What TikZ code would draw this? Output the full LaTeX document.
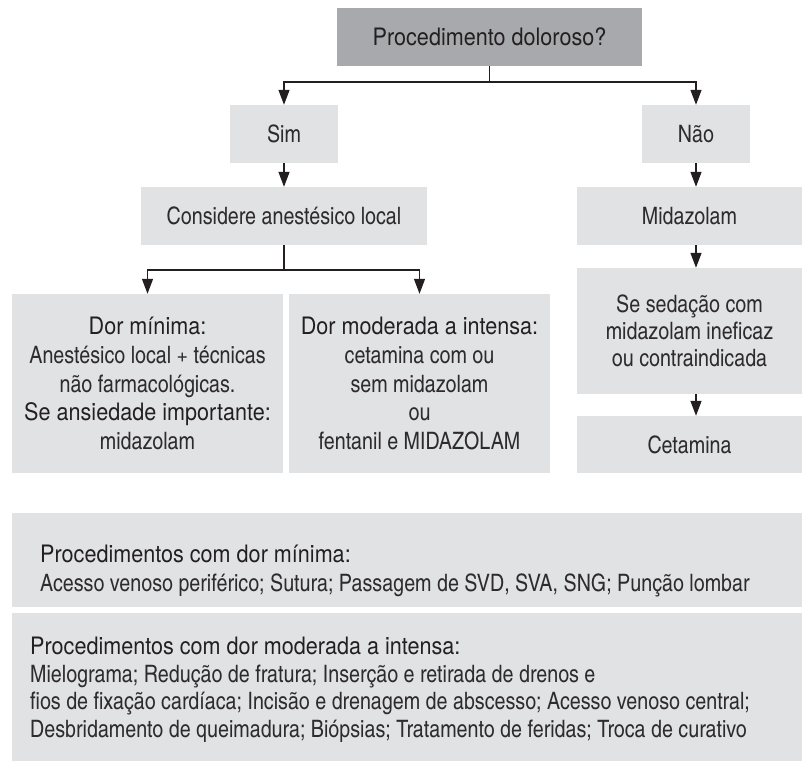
\documentclass[tikz,border=0pt]{standalone}
\usepackage{fontspec}
\setmainfont{TeX Gyre Heros}
\newfontfamily\headfont{TeX Gyre Heros}[FakeStretch=0.9]
\newfontfamily\bodyfont{texgyreheroscn-regular.otf}
\usetikzlibrary{arrows.meta}
\definecolor{boxlight}{HTML}{E1E2E4}
\definecolor{boxdark}{HTML}{A7A9AC}
\definecolor{txt}{HTML}{231F20}
\definecolor{bodytxt}{HTML}{2E2B2C}
\begin{document}
\begin{tikzpicture}[x=1pt,y=-1pt,
  box/.style={fill=boxlight, inner sep=0pt, text=bodytxt, align=center,
    font=\bodyfont\fontsize{24}{28.6}\selectfont},
  linetext/.style={inner sep=0pt, anchor=base west},
  conn/.style={line width=1.3pt, draw=txt},
  arr/.style={conn, -{Triangle[length=15pt,width=11pt]}},
]
\useasboundingbox (0,0) rectangle (802,761);

% flowchart boxes
\node[box, fill=boxdark, text=txt, minimum width=305pt, minimum height=58pt,
  font=\headfont\fontsize{24}{28.6}\selectfont] (top) at (489.5,37) {Procedimento doloroso?};
\node[box, minimum width=108pt, minimum height=58pt] (sim) at (284,134) {Sim};
\node[box, minimum width=108pt, minimum height=58pt] (nao) at (696,134) {Não};
\node[box, minimum width=286pt, minimum height=58pt] (cons) at (284,216) {Considere anestésico local};
\node[box, minimum width=225pt, minimum height=58pt] (mid) at (689.5,216) {Midazolam};
\node[box, minimum width=271pt, minimum height=179pt] (dmin) at (147.5,383.5)
  {{\headfont\color{txt}Dor mínima:}\\Anestésico local + técnicas\\não farmacológicas.\\{\headfont\color{txt}Se ansiedade importante:}\\midazolam};
\node[box, minimum width=261pt, minimum height=179pt] (dmod) at (419.5,383.5)
  {{\headfont\color{txt}Dor moderada a intensa:}\\cetamina com ou\\sem midazolam\\ou\\fentanil e MIDAZOLAM};
\node[box, minimum width=225pt, minimum height=126pt,
  font=\bodyfont\fontsize{24}{27}\selectfont] (sed) at (689.5,331)
  {Se sedação com\\midazolam ineficaz\\ou contraindicada};
\node[box, minimum width=225pt, minimum height=57pt] (cet) at (689.5,444.5) {Cetamina};

% connectors
\coordinate (j1) at (489.5,82);
\coordinate (j2) at (284,270);
\draw[conn] (top.south) -- (j1);
\draw[arr] (j1) -| (sim.north);
\draw[arr] (j1) -| (nao.north);
\draw[arr] (sim.south) -- (cons.north);
\draw[conn] (cons.south) -- (j2);
\draw[arr] (j2) -| (dmin.north);
\draw[arr] (j2) -| (dmod.north);
\draw[arr] (nao.south) -- (nao.south |- mid.north);
\draw[arr] (nao.south |- mid.south) -- (nao.south |- sed.north);
\draw[arr] (nao.south |- sed.south) -- (nao.south |- cet.north);

% bottom boxes
\node[fill=boxlight, inner sep=0pt, minimum width=790pt, minimum height=94pt] (b1) at (407,560) {};
\node[fill=boxlight, inner sep=0pt, minimum width=790pt, minimum height=148pt] (b2) at (407,687) {};

\node[linetext, text=txt, font=\headfont\fontsize{24}{28.6}\selectfont] (b1h) at (40,562) {Procedimentos com dor mínima:};
\node[linetext, text=bodytxt, font=\bodyfont\fontsize{24}{28.6}\selectfont] (b1a) at (40,591) {Acesso venoso periférico; Sutura; Passagem de SVD, SVA, SNG; Punção lombar};

\node[linetext, text=txt, font=\headfont\fontsize{24}{28.6}\selectfont] (b2h) at (30,654) {Procedimentos com dor moderada a intensa:};
\node[linetext, text=bodytxt, font=\bodyfont\fontsize{24}{28.6}\selectfont] (b2a) at (30,682) {Mielograma; Redução de fratura; Inserção e retirada de drenos e};
\node[linetext, text=bodytxt, font=\bodyfont\fontsize{24}{28.6}\selectfont] (b2b) at (30,709) {fios de fixação cardíaca; Incisão e drenagem de abscesso; Acesso venoso central;};
\node[linetext, text=bodytxt, font=\bodyfont\fontsize{24}{28.6}\selectfont] (b2c) at (30,737) {Desbridamento de queimadura; Biópsias; Tratamento de feridas; Troca de curativo};
\end{tikzpicture}
\end{document}
